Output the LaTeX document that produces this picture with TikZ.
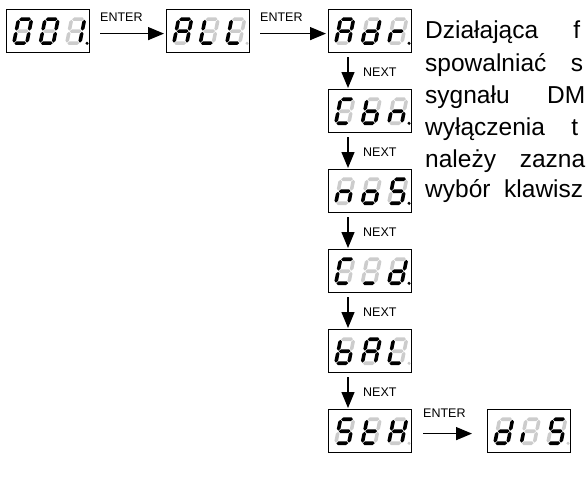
\documentclass[tikz,border=0pt]{standalone}
\usepackage{fontspec}
\setmainfont{Liberation Sans}
\usetikzlibrary{arrows.meta}
\colorlet{seg0}{black!20}
\colorlet{seg1}{black}
% one horizontal / vertical segment in local digit coordinates (half thickness 1.8)
\def\sgHor#1#2{\fill[seg#1] (0.6,#2) -- (2.4,#2+1.8) -- (10.6,#2+1.8) -- (12.4,#2) -- (10.6,#2-1.8) -- (2.4,#2-1.8) -- cycle;}
\def\sgVer#1#2#3{\fill[seg#1] (#2,#3+0.6) -- (#2+1.8,#3+2.4) -- (#2+1.8,#3+9.6) -- (#2,#3+11.4) -- (#2-1.8,#3+9.6) -- (#2-1.8,#3+2.4) -- cycle;}
% digit: x, y, then 7 flags a b c d e f g
\def\sgParse#1#2#3#4#5#6#7#8#9{%
  \begin{scope}[shift={(#1,#2)},x=1pt,y=1pt,xslant=0.2]
    \sgHor{#3}{24}\sgVer{#4}{13}{12}\sgVer{#5}{13}{0}\sgHor{#6}{0}%
    \sgVer{#7}{0}{0}\sgVer{#8}{0}{12}\sgHor{#9}{12}%
  \end{scope}}
\newcommand\sgDigit[3]{\sgParse{#1}{#2}#3}
% display: name, left, top, three digit codes, dot flag
\newcommand\sgDisplay[7]{%
  \node[dispbox] (#1) at (#2,#3) {};
  \sgDigit{#2+7.8}{#3+34.2}{#4}%
  \sgDigit{#2+34.3}{#3+34.2}{#5}%
  \sgDigit{#2+60.8}{#3+34.2}{#6}%
  \fill[seg#7] (#2+81,#3+34.3) circle[radius=1.7pt];}
\begin{document}
\begin{tikzpicture}[x=1pt,y=-1pt,
  dispbox/.style={draw, line width=1.2pt, minimum width=83pt, minimum height=43pt, inner sep=0pt, anchor=north west},
  arr/.style={line width=1.3pt, -{Triangle[length=16pt,width=13pt]}},
  lbl/.style={font=\fontsize{12.5}{14}\selectfont, inner sep=0pt},
  txt/.style={font=\fontsize{24.5}{28}\selectfont, inner sep=0pt, anchor=base west}]
\useasboundingbox (0,0) rectangle (588,495);
\clip (0,0) rectangle (588,495);
% displays
\sgDisplay{d001}{6}{9}{1111110}{1111110}{0110000}{1}
\sgDisplay{dALL}{166}{9}{1110111}{0001110}{0001110}{0}
\sgDisplay{dAdr}{328}{9}{1110111}{0111101}{0000101}{1}
\sgDisplay{dCbn}{328}{89}{1001110}{0011111}{0010101}{1}
\sgDisplay{dnoS}{328}{169}{0010101}{0011101}{1011011}{1}
\sgDisplay{dCd}{328}{249}{1001110}{0001000}{0111101}{1}
\sgDisplay{dbAL}{328}{329}{0011111}{1110111}{0001110}{0}
\sgDisplay{dStH}{328}{409}{1011011}{0001111}{0110111}{0}
\sgDisplay{ddIS}{487}{409}{0111101}{0000100}{1011011}{0}
% horizontal connectors
\draw[arr] ([xshift=10pt,yshift=-2.5pt]d001.east) -- ([xshift=-2pt,yshift=-2.5pt]dALL.west);
\draw[arr] ([xshift=10pt,yshift=-2.5pt]dALL.east) -- ([xshift=-2pt,yshift=-2.5pt]dAdr.west);
\draw[arr] ([xshift=11pt,yshift=-2.5pt]dStH.east) -- ([xshift=-15pt,yshift=-2.5pt]ddIS.west);
\node[lbl, anchor=west] (e1) at (100,17) {ENTER};
\node[lbl, anchor=west] (e2) at (260,17) {ENTER};
\node[lbl, anchor=west] (e3) at (423,413) {ENTER};
% vertical connectors
\foreach \a/\b in {dAdr/dCbn, dCbn/dnoS, dnoS/dCd, dCd/dbAL, dbAL/dStH}{
  \draw[arr] ([xshift=20pt,yshift=-4pt]\a.south west) -- ([xshift=20pt,yshift=1pt]\b.north west);
  \node[lbl, anchor=west] at ([xshift=35pt,yshift=-19pt]\a.south west) {NEXT};
}
% text column
\node[txt] (t1) at (425,39) {\makebox[155pt][s]{Działająca f}};
\node[txt] (t2) at (425,71) {\makebox[158pt][s]{spowalniać s}};
\node[txt] (t3) at (425,103.5) {\makebox[160pt][s]{sygnału DM}};
\node[txt] (t4) at (425,135.5) {\makebox[153pt][s]{wyłączenia t}};
\node[txt] (t5) at (425,167) {\makebox[160pt][s]{należy zazna}};
\node[txt] (t6) at (425,197.5) {\makebox[158pt][s]{wybór klawisz}};
\end{tikzpicture}
\end{document}
